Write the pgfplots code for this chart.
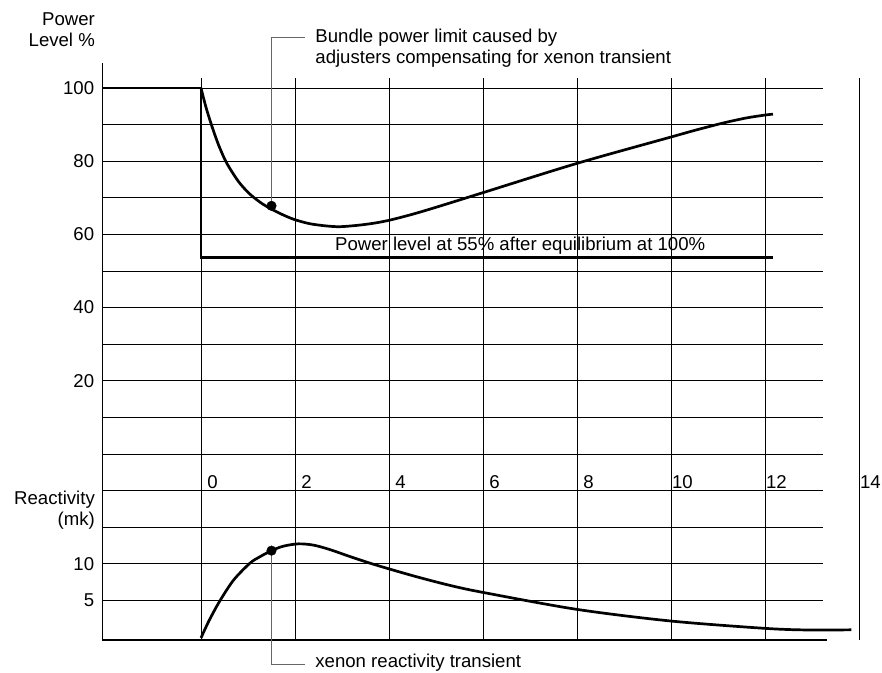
\documentclass[border=0pt]{standalone}
\usepackage{pgfplots}
\pgfplotsset{compat=1.18}
\usepackage{fontspec}
\setmainfont{Liberation Sans}

% power level after the step (%)
\pgfplotstableread{
t p
-2.1 100
0 100
0 53.6
12.17 53.6
}\steptable

% xenon-limited power level (%)
\pgfplotstableread{
t p
0 100
0.1 95.0
0.2 90.8
0.3 87.0
0.4 83.6
0.55 79.4
0.8 74.4
1.04 71.0
1.3 68.4
1.5 66.9
1.75 65.3
2.0 64.0
2.32 62.9
2.67 62.3
2.96 62.1
3.35 62.5
3.7 63.1
4.02 63.9
4.5 65.5
5.0 67.4
6.0 71.4
8.0 79.4
10.0 86.6
10.5 88.4
11.1 90.4
11.6 91.8
12.0 92.6
12.17 92.85
}\xenonpower

% xenon reactivity (mk)
\pgfplotstableread{
t mk
0 0
0.1 1.4
0.2 2.7
0.4 5.0
0.69 7.8
1.04 10.1
1.26 11.0
1.5 11.8
1.75 12.4
2.07 12.72
2.39 12.55
2.74 11.95
3.17 11.0
3.60 10.1
4.02 9.3
4.60 8.25
5.30 7.1
5.98 6.18
7.98 3.88
9.98 2.30
11.97 1.31
12.89 1.08
13.84 1.1
}\xenonmk

\begin{document}
\fontsize{18.6bp}{21bp}\selectfont
\begin{tikzpicture}
\begin{axis}[
  scale only axis, width=720.7bp, height=562bp,
  xmin=-2.1, xmax=13.234, ymin=-50.82, ymax=102.73,
  clip=false,
  axis line style={draw=none},
  major tick length=0pt,
  xtick={0,2,...,12}, xticklabels={},
  ytick={-40,-30,...,100},
  yticklabels={5,10,,,,,20,,40,,60,,80,,100},
  yticklabel style={anchor=east, inner sep=0pt, xshift=-8bp},
  grid=major,
  major grid style={black, line width=0.9bp},
]
% invisible frame, same size as the reference
\path (axis cs:-4.277,-59.84) rectangle (axis cs:14.49,124.04);
% axis lines
\draw[black, line width=1.1bp] (axis cs:-2.1,106.8) -- (axis cs:-2.1,-50.82) -- (axis cs:13.32,-50.82);
\draw[black, line width=0.9bp] (axis cs:14,102.73) -- (axis cs:14,-50.82);
% x labels
\pgfplotsinvokeforeach{0,2,...,14}{
  \node[xshift=11.5bp, inner sep=0pt] at (axis cs:#1,-7.65) {#1};
}
% axis titles
\node[anchor=east, align=right, inner sep=0pt] at (axis cs:-2.255,115.8) {Power\\Level \%};
\node[anchor=east, align=right, inner sep=0pt] at (axis cs:-2.255,-15.3) {Reactivity\\(mk)};
% annotations
\draw[black!60, line width=1bp] (axis cs:1.50,67.8) -- (axis cs:1.50,113.9) -- (axis cs:2.213,113.9);
\node[anchor=west, align=left, inner sep=0pt] at (axis cs:2.43,110.8)
  {Bundle power limit caused by\\adjusters compensating for xenon transient};
\node[anchor=west, inner sep=0pt] at (axis cs:2.85,56.8)
  {Power level at 55\% after equilibrium at 100\%};
\draw[black!60, line width=1bp] (axis cs:1.50,-26.4) -- (axis cs:1.50,-57.65) -- (axis cs:2.213,-57.65);
\node[anchor=west, inner sep=0pt] at (axis cs:2.43,-57.1) {xenon reactivity transient};
% curves
\addplot[black, line width=2.7bp] table[x=t, y=p] {\steptable};
\addplot[black, line width=2.7bp, smooth] table[x=t, y=p] {\xenonpower};
\addplot[only marks, mark=*, mark size=4.8bp, black] coordinates {(1.50,67.8)};
\end{axis}
\begin{axis}[
  scale only axis, width=720.7bp, height=562bp,
  xmin=-2.1, xmax=13.234, ymin=-0.27, ymax=75.68,
  clip=false, hide axis,
]
\addplot[black, line width=2.7bp, smooth] table[x=t, y=mk] {\xenonmk};
\addplot[only marks, mark=*, mark size=4.8bp, black] coordinates {(1.50,11.8)};
\end{axis}
\end{tikzpicture}
\end{document}
